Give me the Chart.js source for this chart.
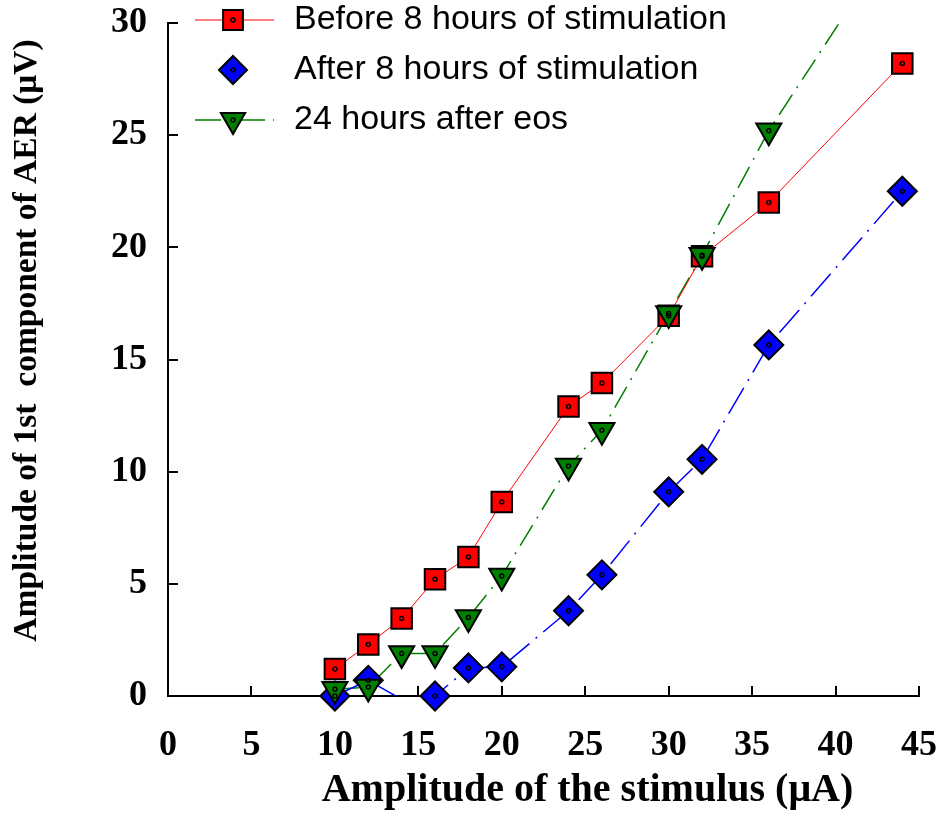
<!DOCTYPE html>
<html>
<head>
<meta charset="utf-8">
<script src="https://cdn.jsdelivr.net/npm/chart.js@4"></script>
<style>
  html, body { margin: 0; padding: 0; background: #fff; }
  #wrap { width: 947px; height: 817px; position: relative; }
</style>
</head>
<body>
<div id="wrap"><canvas id="chart1"></canvas></div>
<script>
// stimulus amplitude (uA) - same for all three series
const stimulus = [10, 12, 14, 16, 18, 20, 24, 26, 30, 32, 36, 44];
// AER amplitude (uV)
const before8h = [1.2, 2.3, 3.45, 5.2, 6.2, 8.65, 12.9, 13.95, 16.95, 19.6, 22.0, 28.2];
const after8h = [0, 0.7, -0.15, 0, 1.25, 1.3, 3.8, 5.4, 9.1, 10.55, 15.65, 22.5];
const after24h = [0.3, 0.4, 1.9, 1.9, 3.5, 5.35, 10.25, 11.85, 17.05, 19.65, 25.2, 34.3];
const seriesNames = ['Before 8 hours of stimulation', 'After 8 hours of stimulation', '24 hours after eos'];

const xMin = 0, xMax = 45, yMin = 0, yMax = 30;

const red = '#FF0000';
const blue = '#0000FF';
const green = '#008000';
const serif = "'Liberation Serif', 'Times New Roman', serif";
const sans = "'Liberation Sans', Arial, sans-serif";

const toPoints = ys => stimulus.map((x, i) => ({ x: x, y: ys[i] }));
const inRange = c => c.raw && c.raw.y >= yMin && c.raw.y <= yMax;

const series = [
    { name: seriesNames[0], values: before8h, color: red, style: 'rect', rotation: 0, lineWidth: 1, dash: [], legendLine: true },
    { name: seriesNames[1], values: after8h, color: blue, style: 'rectRot', rotation: 0, lineWidth: 1.5, dash: [30, 8, 2, 8], legendLine: false },
    { name: seriesNames[2], values: after24h, color: green, style: 'triangle', rotation: 180, lineWidth: 1.5, dash: [24, 8, 2, 8], legendLine: true }
];

// legend icon: short line with the marker in the middle
function makeIcon(s) {
    const c = document.createElement('canvas');
    c.width = 88; c.height = 32;
    const g = c.getContext('2d');
    if (s.legendLine) {
        g.strokeStyle = s.color;
        g.lineWidth = s.lineWidth;
        g.setLineDash(s.dash.length ? [26, 8, 2, 8] : []);
        g.beginPath(); g.moveTo(6, 16); g.lineTo(85, 16); g.stroke();
        g.setLineDash([]);
    }
    g.fillStyle = s.color;
    g.strokeStyle = '#000';
    g.lineWidth = 2;
    Chart.helpers.drawPoint(g, { pointStyle: s.style, radius: 14, rotation: s.rotation, borderWidth: 2 }, 44, 16);
    g.lineWidth = 1.5;
    g.beginPath(); g.arc(44, 16, 2, 0, Math.PI * 2); g.stroke();
    return c;
}

const lineSets = series.map((s, i) => ({
    label: s.name + ' line',
    data: toPoints(s.values),
    borderColor: s.color,
    borderWidth: s.lineWidth,
    borderDash: s.dash,
    pointRadius: 0,
    fill: false,
    tension: 0,
    order: 10 + i
}));

const markerSets = series.map((s, i) => ({
    label: s.name,
    data: toPoints(s.values),
    showLine: false,
    pointStyle: s.style,
    rotation: s.rotation,
    pointRadius: c => inRange(c) ? 14.5 : 0,
    pointBackgroundColor: s.color,
    pointBorderColor: '#000',
    pointBorderWidth: 2,
    clip: false,
    isMarker: true,
    order: 3 - i
}));

// small ring in the centre of every marker
const centerDots = {
    id: 'centerDots',
    afterDatasetsDraw(chart) {
        const ctx = chart.ctx;
        ctx.save();
        ctx.strokeStyle = '#000';
        ctx.lineWidth = 1.5;
        chart.data.datasets.forEach((ds, i) => {
            if (!ds.isMarker) return;
            chart.getDatasetMeta(i).data.forEach(pt => {
                if (!(pt.options.radius > 0)) return;
                ctx.beginPath();
                ctx.arc(pt.x, pt.y, 2, 0, Math.PI * 2);
                ctx.stroke();
            });
        });
        ctx.restore();
    }
};

// axis titles in the original sit off-centre
function shiftTitle(scale, dx, dy) {
    if (!scale || scale._titleShifted) return;
    const base = scale.drawTitle;
    scale.drawTitle = function () {
        const c = this.ctx;
        c.save();
        c.translate(dx, dy);
        base.call(this);
        c.restore();
    };
    scale._titleShifted = true;
}

// put the legend in the top-left corner, partly above the plot
const legendPlace = {
    id: 'legendPlace',
    afterLayout(chart) {
        const lg = chart.legend;
        if (lg) {
            lg.left = 173;
            lg.top = -13;
            lg.bottom = lg.top + 400;
        }
        shiftTitle(chart.scales.x, 44, 0);
        shiftTitle(chart.scales.y, 0, -19);
    }
};

const ctx1 = document.getElementById('chart1').getContext('2d');
new Chart(ctx1, {
    type: 'line',
    data: { datasets: [...lineSets, ...markerSets] },
    plugins: [centerDots, legendPlace],
    options: {
        responsive: true,
        maintainAspectRatio: false,
        animation: false,
        events: [],
        layout: { padding: { top: 23, right: 28, left: 0, bottom: 0 } },
        plugins: {
            tooltip: { enabled: false },
            legend: {
                position: 'chartArea',
                align: 'start',
                labels: {
                    usePointStyle: true,
                    pointStyleWidth: 88,
                    padding: 16,
                    color: '#000',
                    font: { family: sans, size: 34 },
                    generateLabels: chart => series.map((s, i) => ({
                        text: s.name,
                        pointStyle: makeIcon(s),
                        lineWidth: 0,
                        hidden: false,
                        fontColor: '#000',
                        datasetIndex: lineSets.length + i
                    }))
                }
            }
        },
        scales: {
            x: {
                type: 'linear',
                min: xMin, max: xMax,
                afterFit: scale => {
                    scale.height = 121;
                    scale.paddingLeft = 0;
                    scale.paddingRight = 0;
                },
                border: { display: true, color: '#000', width: 2 },
                grid: { drawOnChartArea: false, drawTicks: true, tickLength: -10, color: '#000', lineWidth: 2 },
                ticks: { stepSize: 5, padding: 38, color: '#000', font: { family: serif, size: 36, weight: 'bold' } },
                title: {
                    display: true,
                    text: 'Amplitude of the stimulus (μA)',
                    color: '#000',
                    font: { family: serif, size: 40, weight: 'bold', lineHeight: 1.2 },
                    padding: { top: 0, bottom: 2 }
                }
            },
            y: {
                min: yMin, max: yMax,
                afterFit: scale => {
                    scale.width = 168;
                    scale.paddingTop = 0;
                    scale.paddingBottom = 0;
                },
                border: { display: true, color: '#000', width: 2 },
                grid: { drawOnChartArea: false, drawTicks: true, tickLength: -10, color: '#000', lineWidth: 2 },
                ticks: { stepSize: 5, padding: 31, color: '#000', font: { family: serif, size: 36, weight: 'bold' } },
                title: {
                    display: true,
                    text: 'Amplitude of 1st  component of AER (μV)',
                    color: '#000',
                    font: { family: serif, size: 33.5, weight: 'bold', lineHeight: 1.2 },
                    padding: { top: 7, bottom: 0 }
                }
            }
        }
    }
});
</script>
</body>
</html>
